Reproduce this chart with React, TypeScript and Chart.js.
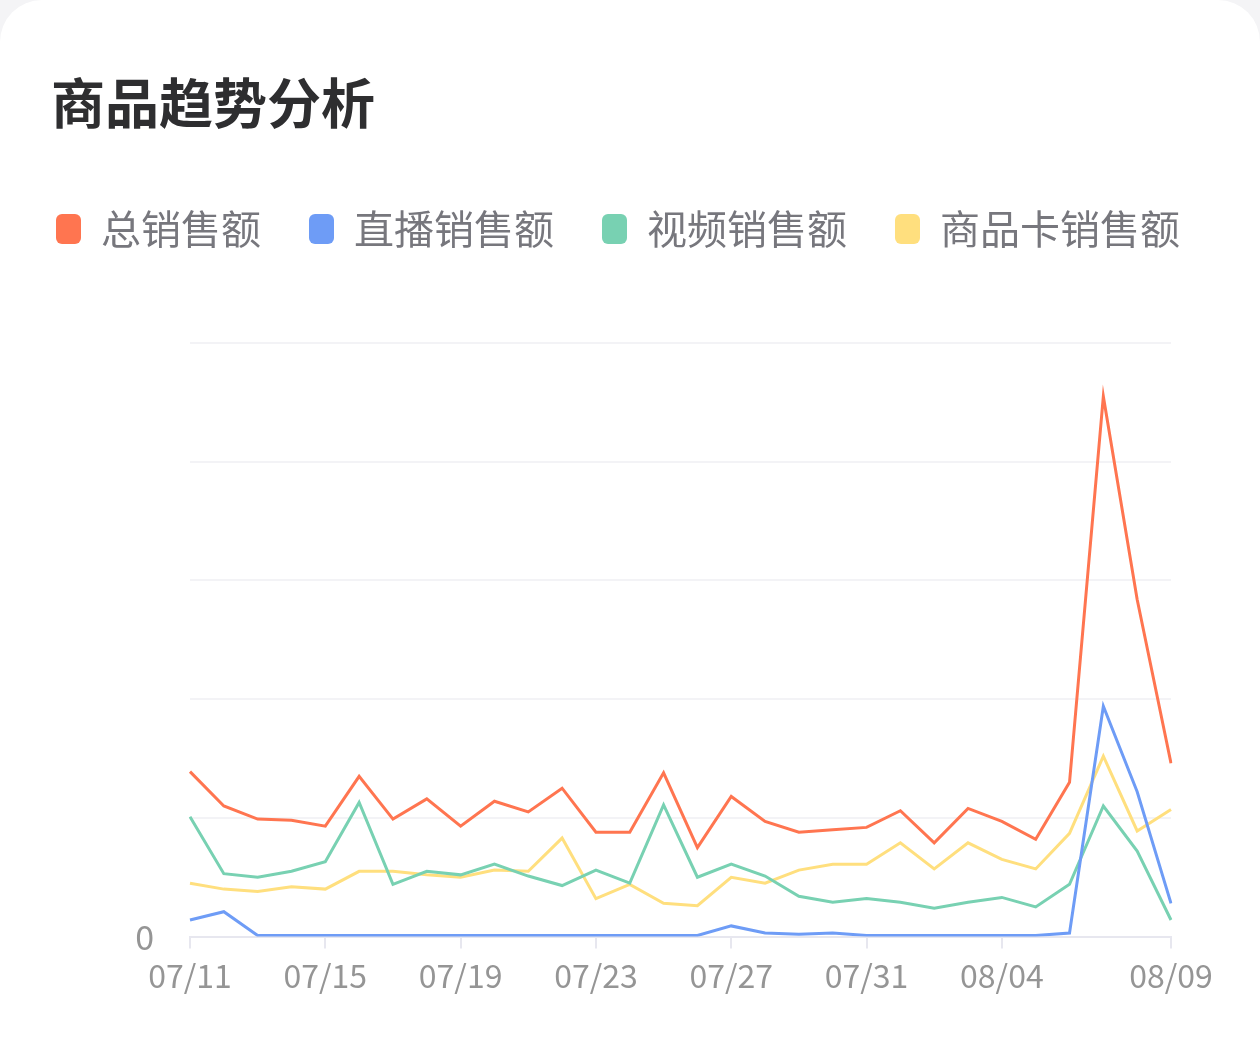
import React, { useEffect, useRef } from "react";
import { Chart, registerables } from "chart.js";

Chart.register(...registerables);

const dates = [
  "07/11", "07/12", "07/13", "07/14", "07/15", "07/16", "07/17", "07/18", "07/19", "07/20",
  "07/21", "07/22", "07/23", "07/24", "07/25", "07/26", "07/27", "07/28", "07/29", "07/30",
  "07/31", "08/01", "08/02", "08/03", "08/04", "08/05", "08/06", "08/07", "08/08", "08/09",
];

const totalSales = [139, 110, 99, 98, 93, 135, 99, 116, 93, 114, 105, 125, 88, 88, 138, 75, 118, 97, 88, 90, 92, 106, 79, 108, 97, 82, 130, 455, 284, 146];
const liveSales = [14, 21, 1, 1, 1, 1, 1, 1, 1, 1, 1, 1, 1, 1, 1, 1, 9, 3, 2, 3, 1, 1, 1, 1, 1, 1, 3, 194, 122, 28];
const videoSales = [101, 53, 50, 55, 63, 113, 44, 55, 52, 61, 51, 43, 56, 45, 111, 50, 61, 51, 34, 29, 32, 29, 24, 29, 33, 25, 44, 110, 72, 14];
const cardSales = [45, 40, 38, 42, 40, 55, 55, 52, 50, 56, 55, 83, 32, 44, 28, 26, 50, 45, 56, 61, 61, 79, 57, 79, 65, 57, 87, 152, 89, 107];

const seriesNames = ["总销售额", "直播销售额", "视频销售额", "商品卡销售额"];
const seriesColors = ["#FF7550", "#6E9CF6", "#78D1B2", "#FFDF7E"];
const yTicks = [0, 100, 200, 300, 400, 500];
const labeledIdx = (i: number) => (i % 4 === 0 && i <= 24) || i === dates.length - 1;

const FONT = "'Noto Sans CJK SC', 'Noto Sans', sans-serif";

export default function App() {
  const ref = useRef<HTMLCanvasElement | null>(null);

  useEffect(() => {
    if (!ref.current) return;
    const values = [totalSales, liveSales, videoSales, cardSales];
    const legendGap = {
      id: "legendGap",
      beforeLayout(chart: any) {
        const lg = chart.legend;
        if (lg && !lg._gapPatched) {
          const f = lg.fit;
          lg.fit = function () {
            f.call(this);
            this.height += 84;
          };
          lg._gapPatched = true;
        }
      },
    };
    const chart = new Chart(ref.current, {
      type: "line",
      data: {
        labels: dates,
        datasets: seriesNames.map((name, k) => ({
          label: name,
          data: values[k],
          borderColor: seriesColors[k],
          backgroundColor: seriesColors[k],
          borderWidth: 3,
          pointRadius: 0,
          tension: 0,
          fill: false,
          yAxisID: "y",
        })),
      },
      options: {
        responsive: false,
        animation: false,
        devicePixelRatio: 1,
        layout: { padding: { top: 161, left: 8, right: 0, bottom: 50 } },
        plugins: {
          tooltip: { enabled: false },
          title: { display: false },
          legend: {
            display: true,
            position: "top",
            align: "start",
            labels: {
              boxWidth: 25,
              boxHeight: 30,
              useBorderRadius: true,
              borderRadius: 6,
              padding: 48,
              color: "#77777d",
              font: { family: FONT, size: 40 },
              generateLabels: () =>
                seriesNames.map((n, k) => ({
                  text: n,
                  fillStyle: seriesColors[k],
                  strokeStyle: seriesColors[k],
                  fontColor: "#77777d",
                  lineWidth: 0,
                  borderRadius: 6,
                  hidden: false,
                  datasetIndex: k,
                })),
            },
          },
        },
        scales: {
          x: {
            offset: false,
            border: { display: true, color: "#e7e7ef", width: 2 },
            grid: {
              display: true,
              drawOnChartArea: false,
              drawTicks: true,
              tickLength: 12,
              lineWidth: 2,
              color: (c: any) => (labeledIdx(c.index) ? "#e7e7ef" : "rgba(0,0,0,0)"),
              tickColor: (c: any) => (labeledIdx(c.index) ? "#e7e7ef" : "rgba(0,0,0,0)"),
            },
            ticks: {
              autoSkip: false,
              maxRotation: 0,
              minRotation: 0,
              padding: 8,
              color: "#959595",
              font: { family: FONT, size: 32 },
              callback: (_v: any, i: number) => (labeledIdx(i) ? dates[i] : ""),
            },
          },
          y: {
            min: 0,
            max: 500,
            position: "left",
            border: { display: false },
            grid: { color: "#f3f3f6", lineWidth: 2, drawTicks: false },
            afterFit: (s: any) => {
              s.width = 182;
            },
            afterBuildTicks: (s: any) => {
              s.ticks = yTicks.map((v) => ({ value: v }));
            },
            ticks: {
              padding: 36,
              color: "#959595",
              font: { family: FONT, size: 34 },
              callback: (v: any) => (Number(v) === 0 ? "0" : ""),
            },
          },
          yRight: {
            type: "linear",
            position: "right",
            display: true,
            min: 0,
            max: 500,
            border: { display: false },
            grid: { display: false, drawTicks: false },
            ticks: { display: false },
            afterFit: (s: any) => {
              s.width = 89;
            },
          },
        },
      },
      plugins: [legendGap],
    });
    return () => chart.destroy();
  }, []);

  return (
    <div style={{ position: "fixed", left: 0, top: 0, width: 1260, height: 1053, background: "#f4f4f6" }}>
      <div
        style={{
          position: "absolute",
          left: 0,
          top: 0,
          width: 1260,
          height: 1053,
          background: "#ffffff",
          borderRadius: "42px 42px 0 0",
        }}
      />
      <div
        style={{
          position: "absolute",
          left: 51,
          top: 74,
          fontFamily: FONT,
          fontWeight: 700,
          fontSize: 54,
          lineHeight: "54px",
          color: "#2e2e30",
          whiteSpace: "nowrap",
        }}
      >
        商品趋势分析
      </div>
      <canvas ref={ref} width={1260} height={1053} style={{ position: "absolute", left: 0, top: 0, width: 1260, height: 1053 }} />
    </div>
  );
}
